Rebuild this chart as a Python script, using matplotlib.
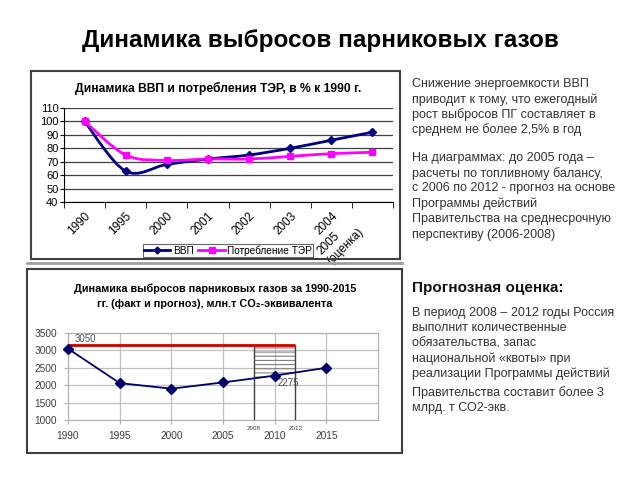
import matplotlib
matplotlib.use('Agg')
import matplotlib.pyplot as plt
import matplotlib.patches as mpatches
import matplotlib.transforms as mtransforms
from matplotlib.path import Path
from matplotlib.lines import Line2D
import numpy as np

plt.rcParams['font.family'] = ['Liberation Sans', 'DejaVu Sans']
plt.rcParams['hatch.linewidth'] = 0.8

# --- top chart: GDP and energy use, % of 1990
gdp_labels = ['1990', '1995', '2000', '2001', '2002', '2003', '2004', '2005\n(оценка)']
gdp_index = [100, 63, 68, 72, 75, 80, 86, 92]
energy_index = [100, 75, 71, 72, 72, 74, 76, 77]

# --- bottom chart: GHG emissions, mln t CO2-eq
emis_years = [1990, 1995, 2000, 2005, 2010, 2015]
emissions = [3050, 2060, 1900, 2080, 2275, 2500]
kyoto_level = 3160
kyoto_period = [2008, 2012]

right_par1 = ['Снижение энергоемкости ВВП',
              'приводит к тому, что ежегодный',
              'рост выбросов ПГ составляет в',
              'среднем не более 2,5% в год']
right_par2 = ['На диаграммах: до 2005 года –',
              'расчеты по топливному балансу,',
              'с 2006 по 2012 - прогноз на основе',
              'Программы действий',
              'Правительства на среднесрочную',
              'перспективу (2006-2008)']
right_par3 = ['В период 2008 – 2012 годы Россия',
              'выполнит количественные',
              'обязательства, запас',
              'национальной «квоты» при',
              'реализации Программы действий']
right_par4 = ['Правительства составит более 3',
              'млрд. т СО2-экв.']

W, H = 640, 480


def fx(px):
    return px / W


def fy(py):
    return 1 - py / H


def smooth_path(xs, ys):
    """Excel-like smoothed line as cubic bezier segments through the points"""
    pts = np.column_stack([xs, ys]).astype(float)
    verts = [pts[0]]
    codes = [Path.MOVETO]
    n = len(pts)
    for i in range(n - 1):
        p0 = pts[max(i - 1, 0)]
        p1 = pts[i]
        p2 = pts[i + 1]
        p3 = pts[min(i + 2, n - 1)]
        verts += [p1 + (p2 - p0) / 6, p2 - (p3 - p1) / 6, p2]
        codes += [Path.CURVE4] * 3
    return Path(verts, codes)


def frame(x0, y0, x1, y1, color='#404040', lw=1.5):
    fig.add_artist(mpatches.Rectangle((fx(x0), fy(y1)), fx(x1) - fx(x0), fy(y0) - fy(y1),
                                      transform=fig.transFigure, fill=False,
                                      edgecolor=color, linewidth=lw))


fig = plt.figure(figsize=(6.4, 4.8), dpi=100)

fig.text(0.5, fy(40), 'Динамика выбросов парниковых газов', ha='center', va='center',
         fontsize=17.5, fontweight='bold')

# ---------------- top chart
frame(31, 71, 400, 259)
fig.text(fx(218), fy(88), 'Динамика ВВП и потребления ТЭР, в % к 1990 г.',
         ha='center', va='center', fontsize=8.7, fontweight='bold')

ax1 = fig.add_axes([fx(64), fy(202), fx(393) - fx(64), fy(108) - fy(202)])
x = np.arange(len(gdp_labels))
ax1.set_xlim(-0.5, len(gdp_labels) - 0.5)
ax1.set_ylim(40, 110)
ax1.set_yticks(range(40, 111, 10))
ax1.yaxis.grid(True, color='#404040', linewidth=0.9)
ax1.set_axisbelow(True)
for s in ['top', 'right']:
    ax1.spines[s].set_visible(False)
ax1.tick_params(axis='y', labelsize=8, length=3, pad=1)
ax1.set_xticks(x)
ax1.set_xticklabels(gdp_labels, rotation=45, ha='right', va='top',
                    rotation_mode='anchor', fontsize=8.5, multialignment='left')
ax1.tick_params(axis='x', which='major', length=0, pad=6)
ax1.set_xticks(np.arange(-0.5, len(gdp_labels)), minor=True)
ax1.tick_params(axis='x', which='minor', length=4)
# the two-line label sits lower and further left, as in the original
last = ax1.get_xticklabels()[-1]
last.set_transform(last.get_transform() +
                   mtransforms.ScaledTranslation(-25 / 100, -6 / 100, fig.dpi_scale_trans))

ax1.add_patch(mpatches.PathPatch(smooth_path(x, gdp_index), fill=False,
                                 edgecolor='#000080', linewidth=2))
ax1.add_patch(mpatches.PathPatch(smooth_path(x, energy_index), fill=False,
                                 edgecolor='#FF00FF', linewidth=2))
ax1.plot(x, gdp_index, linestyle='none', marker='D', markersize=4, color='#000080')
ax1.plot(x, energy_index, linestyle='none', marker='s', markersize=5, color='#FF00FF')

handles = [Line2D([], [], color='#000080', lw=2, marker='D', markersize=3.5),
           Line2D([], [], color='#FF00FF', lw=2, marker='s', markersize=4)]
leg = fig.legend(handles, ['ВВП', 'Потребление ТЭР'], loc='center',
                 bbox_to_anchor=(fx(228), fy(250.5)), ncol=2, fontsize=7.3,
                 frameon=True, fancybox=False, edgecolor='#404040', borderpad=0.12,
                 handlelength=2.6, columnspacing=0.5, handletextpad=0.25)
leg.get_frame().set_linewidth(0.8)

# ---------------- bottom chart
fig.add_artist(Line2D([fx(27), fx(402)], [fy(263), fy(263)], transform=fig.transFigure,
                      color='#A0A0A0', linewidth=2))
frame(27, 269, 402, 453)
fig.text(fx(215), fy(289), 'Динамика выбросов парниковых газов за 1990-2015',
         ha='center', va='center', fontsize=7.8, fontweight='bold')
fig.text(fx(215), fy(304), 'гг. (факт и прогноз), млн.т CO₂-эквивалента',
         ha='center', va='center', fontsize=7.8, fontweight='bold')

ax2 = fig.add_axes([fx(68), fy(420), fx(378) - fx(68), fy(333) - fy(420)])
ax2.set_xlim(1990, 2020)
ax2.set_ylim(1000, 3500)
ax2.set_xticks(range(1990, 2020, 5))
ax2.set_yticks(range(1000, 3501, 500))
ax2.grid(True, color='#C0C0C0', linewidth=0.9)
ax2.set_axisbelow(True)
for s in ax2.spines.values():
    s.set_color('#B0B0B0')
ax2.tick_params(labelsize=7.3, colors='#404040', length=3, pad=5)
ax2.tick_params(color='#B0B0B0')

hatch = ax2.fill_between(emis_years, emissions, kyoto_level, facecolor='none',
                         edgecolor='#808080', hatch='----', linewidth=0)
hatch.set_clip_path(mpatches.Rectangle((kyoto_period[0], 1000),
                                       kyoto_period[1] - kyoto_period[0], 2500,
                                       transform=ax2.transData))
ax2.vlines(kyoto_period, 1000, kyoto_level, color='#404040', linewidth=1)
ax2.hlines(kyoto_level, emis_years[0], kyoto_period[1], color='#CC0000', linewidth=2)
ax2.plot(emis_years, emissions, color='#000066', linewidth=1.3, marker='D', markersize=5,
         clip_on=False, zorder=5)

ax2.text(emis_years[0] + 0.6, kyoto_level + 20, f'{emissions[0]}', fontsize=7,
         color='#505050', va='bottom')
ax2.text(emis_years[4] + 0.3, emissions[4] - 60, f'{emissions[4]}', fontsize=7,
         color='#505050', va='top')
for yr in kyoto_period:
    ax2.annotate(str(yr), xy=(yr, 0), xycoords=('data', 'axes fraction'),
                 xytext=(0, -9), textcoords='offset pixels', ha='center', va='center',
                 fontsize=4.5, color='#404040')

# ---------------- right-hand text
tx = fx(412)
txt_color = '#333333'
for i, line in enumerate(right_par1):
    fig.text(tx, fy(84 + i * 15.3), line, va='center', fontsize=9, color=txt_color)
for i, line in enumerate(right_par2):
    fig.text(tx, fy(157.7 + i * 15.4), line, va='center', fontsize=9, color=txt_color)
fig.text(tx, fy(288), 'Прогнозная оценка:', va='center', fontsize=11,
         fontweight='bold', color='#111111')
for i, line in enumerate(right_par3):
    fig.text(tx, fy(313 + i * 15.2), line, va='center', fontsize=9, color=txt_color)
for i, line in enumerate(right_par4):
    fig.text(tx, fy(393 + i * 14.5), line, va='center', fontsize=9, color=txt_color)

fig.savefig('out.png', dpi=100)
